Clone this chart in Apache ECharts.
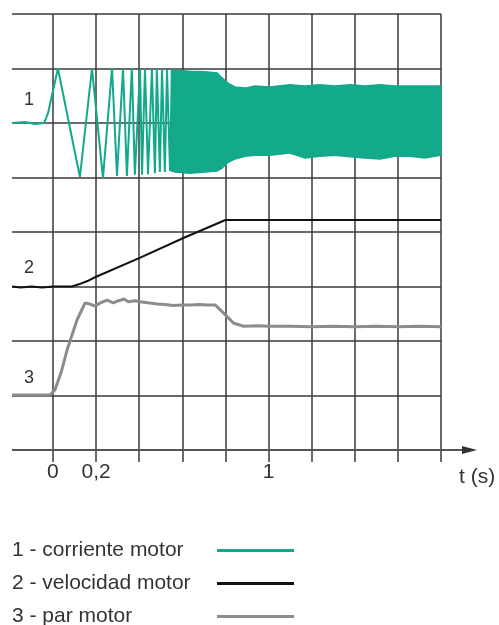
<!DOCTYPE html>
<html><head><meta charset="utf-8">
<script src="https://cdn.jsdelivr.net/npm/echarts@6/dist/echarts.min.js"></script>
<style>html,body{margin:0;padding:0;background:#fff}#c{width:499px;height:625px}</style>
</head><body><div id="c"></div>
<script>
// ---- data (t in seconds, y in grid units) ----
const seriesNames = ['1 - corriente motor', '2 - velocidad motor', '3 - par motor'];
const xTicks = [0, 0.2, 0.4, 0.6, 0.8, 1, 1.2, 1.4, 1.6, 1.8];
const xTickLabels = [0, 0.2, 1];
const curveLabels = ['1', '2', '3'];
const axisArrowT = [-0.19, 1.967];

// 1 - motor current: individual oscillations
const curT = [-0.19, -0.13, -0.083, -0.042, -0.032, -0.023, 0.023, 0.125, 0.181, 0.232, 0.274, 0.297, 0.325, 0.343, 0.366, 0.380, 0.404, 0.413, 0.427, 0.441, 0.459, 0.473, 0.482, 0.496, 0.506, 0.519, 0.529, 0.543, 0.552, 0.566, 0.575];
const curY = [6.0, 6.02, 5.98, 6.0, 6.09, 6.18, 7.0, 5.01, 7.0, 4.99, 7.01, 5.03, 7.0, 5.03, 7.01, 5.05, 6.99, 5.05, 6.99, 5.06, 6.99, 5.08, 6.99, 5.10, 6.99, 5.10, 6.97, 5.12, 6.97, 5.12, 6.97];
// 1 - motor current: dense oscillation envelope
const bandT  = [0.55, 0.566, 0.635, 0.705, 0.761, 0.784, 0.812, 0.844, 0.891, 0.937, 1.006, 1.099, 1.169, 1.238, 1.308, 1.378, 1.447, 1.517, 1.586, 1.656, 1.725, 1.80];
const bandUp = [6.97, 6.97, 6.95, 6.94, 6.92, 6.83, 6.73, 6.66, 6.64, 6.68, 6.66, 6.70, 6.68, 6.70, 6.68, 6.70, 6.68, 6.70, 6.68, 6.68, 6.68, 6.68];
const bandLo = [5.12, 5.10, 5.08, 5.10, 5.12, 5.17, 5.28, 5.34, 5.39, 5.41, 5.41, 5.45, 5.36, 5.39, 5.41, 5.38, 5.36, 5.34, 5.39, 5.39, 5.36, 5.41];
// 2 - motor speed
const velT = [-0.19, -0.15, -0.1, -0.05, 0.0, 0.05, 0.088, 0.12, 0.16, 0.195, 0.405, 0.605, 0.80, 0.823, 1.8];
const velY = [3.0, 2.98, 3.0, 2.98, 3.0, 3.0, 3.0, 3.04, 3.1, 3.17, 3.53, 3.89, 4.22, 4.22, 4.22];
// 3 - motor torque
const parT = [-0.19, -0.05, -0.014, 0.009, 0.04, 0.065, 0.112, 0.149, 0.17, 0.195, 0.22, 0.251, 0.28, 0.298, 0.33, 0.349, 0.38, 0.405, 0.44, 0.484, 0.52, 0.558, 0.6, 0.637, 0.68, 0.716, 0.753, 0.8, 0.837, 0.884, 0.949, 1.0, 1.1, 1.2, 1.3, 1.4, 1.5, 1.6, 1.7, 1.8];
const parY = [1.01, 1.01, 1.01, 1.1, 1.45, 1.83, 2.39, 2.70, 2.68, 2.64, 2.70, 2.75, 2.70, 2.73, 2.77, 2.72, 2.74, 2.72, 2.70, 2.68, 2.67, 2.65, 2.66, 2.66, 2.67, 2.66, 2.66, 2.48, 2.33, 2.27, 2.28, 2.27, 2.27, 2.26, 2.27, 2.26, 2.27, 2.26, 2.27, 2.26];

// ---- styles ----
const TEAL = '#13a98b', BLACK = '#111111', GRAY = '#8c8c8c';
const GRID = '#3a3a3a', TXT = '#333333';
const FONT = '"Liberation Sans", Arial, sans-serif';
const zip = (a, b) => a.map((v, i) => [v, b[i]]);

const labelMark = (text, t, y) => ({
  symbol: 'circle', symbolSize: 1, silent: true,
  itemStyle: { color: 'rgba(0,0,0,0)' },
  label: { show: true, position: 'inside', formatter: text, color: TXT, fontSize: 18, fontFamily: FONT },
  data: [{ coord: [t, y] }]
});

const chart = echarts.init(document.getElementById('c'), null, { renderer: 'canvas' });
chart.setOption({
  animation: false,
  backgroundColor: '#fff',
  grid: { left: 12, right: 58, top: 14, bottom: 175, containLabel: false },
  xAxis: {
    type: 'value', min: -0.19, max: 1.8,
    name: 't (s)', nameLocation: 'end', nameGap: 18,
    nameTextStyle: { fontSize: 21, color: TXT, fontFamily: FONT, verticalAlign: 'top', padding: [17, 0, 0, 0] },
    axisLine: { show: false },
    axisTick: { show: true, customValues: xTicks, length: 12, lineStyle: { color: GRID, width: 1.5 } },
    axisLabel: { customValues: xTickLabels, margin: 12, fontSize: 21, color: TXT, fontFamily: FONT,
      formatter: v => String(v).replace('.', ',') },
    splitLine: { show: true, lineStyle: { color: GRID, width: 1.5 } }
  },
  yAxis: {
    type: 'value', min: 0, max: 8, interval: 1,
    axisLine: { show: false }, axisTick: { show: false }, axisLabel: { show: false },
    splitLine: { show: true, lineStyle: { color: GRID, width: 1.5 } }
  },
  legend: {
    orient: 'vertical', left: 12, top: 540, height: 120, padding: 0, align: 'right',
    itemWidth: 77, itemHeight: 3, itemGap: 12, icon: 'rect',
    formatter: name => '{a|' + name + '}',
    textStyle: { fontSize: 21, color: TXT, fontFamily: FONT, lineHeight: 21,
      rich: { a: { width: 200, align: 'left', fontSize: 21, color: TXT, fontFamily: FONT, lineHeight: 21 } } },
    data: seriesNames
  },
  series: [
    {
      name: 'axis', type: 'custom', silent: true, clip: false,
      data: [[axisArrowT[0], 0, axisArrowT[1]]],
      encode: { x: [0, 2], y: 1 },
      renderItem: (params, api) => {
        const a = api.coord([api.value(0), api.value(1)]);
        const b = api.coord([api.value(2), api.value(1)]);
        return {
          type: 'group', children: [
            { type: 'line', shape: { x1: a[0], y1: a[1], x2: b[0] - 10, y2: b[1] }, style: { stroke: '#555', lineWidth: 2 } },
            { type: 'polygon', shape: { points: [[b[0], b[1]], [b[0] - 15, b[1] - 4], [b[0] - 15, b[1] + 4]] }, style: { fill: '#333' } }
          ]
        };
      }
    },
    {
      name: 'band', type: 'custom', silent: true,
      data: bandT.map((t, i) => [t, bandUp[i], bandLo[i]]),
      encode: { x: 0, y: [1, 2] },
      renderItem: (params, api) => {
        if (params.dataIndex !== 0) return null;
        const pts = [];
        for (let i = 0; i < bandT.length; i++) pts.push(api.coord([bandT[i], bandUp[i]]));
        for (let i = bandT.length - 1; i >= 0; i--) pts.push(api.coord([bandT[i], bandLo[i]]));
        return { type: 'polygon', shape: { points: pts }, style: { fill: TEAL, stroke: TEAL, lineWidth: 1.5 } };
      }
    },
    {
      name: seriesNames[0], type: 'line', color: TEAL, symbol: 'none',
      data: zip(curT, curY), lineStyle: { color: TEAL, width: 2 },
      markPoint: labelMark(curveLabels[0], -0.111, 6.42)
    },
    {
      name: seriesNames[1], type: 'line', color: BLACK, symbol: 'none',
      data: zip(velT, velY), lineStyle: { color: BLACK, width: 2 },
      markPoint: labelMark(curveLabels[1], -0.111, 3.34)
    },
    {
      name: seriesNames[2], type: 'line', color: GRAY, symbol: 'none',
      data: zip(parT, parY), lineStyle: { color: GRAY, width: 3 },
      markPoint: labelMark(curveLabels[2], -0.111, 1.32)
    }
  ]
});
</script>
</body></html>
